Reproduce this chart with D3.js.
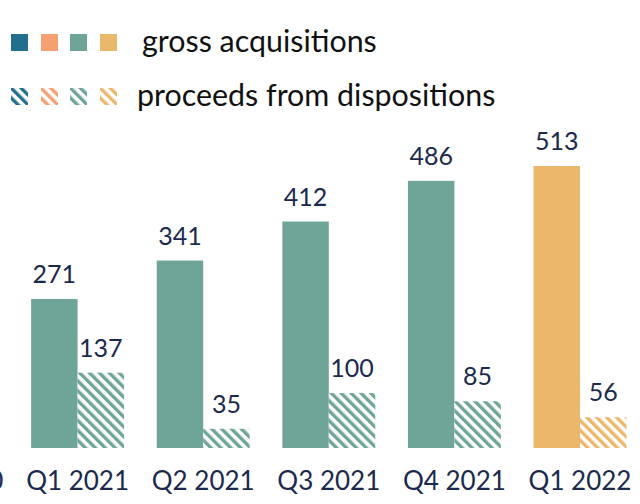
<!DOCTYPE html>
<html>
<head>
<meta charset="utf-8">
<script src="https://cdn.jsdelivr.net/npm/d3@7"></script>
<style>
  html, body { margin: 0; padding: 0; background: #ffffff; }
  svg { display: block; }
  text { font-family: Lato, "Open Sans", sans-serif; }
</style>
</head>
<body>
<svg id="chart" width="640" height="504"></svg>
<script>
// ---- data ----
const categories = ["Q4 2020", "Q1 2021", "Q2 2021", "Q3 2021", "Q4 2021", "Q1 2022"];
const grossAcquisitions = [null, 271, 341, 412, 486, 513];
const proceedsDispositions = [null, 137, 35, 100, 85, 56];
const categoryColors = ["#6fa599", "#6fa599", "#6fa599", "#6fa599", "#6fa599", "#ebb76a"];
const legendColors = ["#216e8e", "#f5a071", "#6fa599", "#ebb76a"];
const legendLabels = ["gross acquisitions", "proceeds from dispositions"];

const svg = d3.select("#chart");
const baseline = 448;
const textColor = "#1b2a4c";

const x = d3.scaleBand()
  .domain(categories)
  .range([-110.8, 642.8])
  .paddingInner(0.26)
  .paddingOuter(0.13);

const xSub = d3.scaleBand()
  .domain(["gross", "proceeds"])
  .range([0, x.bandwidth()]);

const y = d3.scaleLinear()
  .domain([0, 513])
  .range([baseline, 166]);

// hatch patterns
const defs = svg.append("defs");
function hatchId(color) { return "hatch-" + color.replace("#", ""); }
const allColors = Array.from(new Set(categoryColors.concat(legendColors)));
allColors.forEach(c => {
  const p = defs.append("pattern")
    .attr("id", hatchId(c))
    .attr("patternUnits", "userSpaceOnUse")
    .attr("width", 7)
    .attr("height", 7)
    .attr("patternTransform", "rotate(-45)");
  p.append("rect").attr("width", 7).attr("height", 7).attr("fill", "#ffffff");
  p.append("rect").attr("x", 0).attr("y", 0).attr("width", 3.4).attr("height", 7).attr("fill", c);
});

const rows = categories.map((c, i) => ({
  cat: c, gross: grossAcquisitions[i], proceeds: proceedsDispositions[i], color: categoryColors[i]
}));

const g = svg.append("g");
const groups = g.selectAll("g.grp").data(rows.filter(d => d.gross != null))
  .join("g").attr("class", "grp")
  .attr("transform", d => `translate(${x(d.cat)},0)`);

groups.append("rect")
  .attr("x", xSub("gross"))
  .attr("width", xSub.bandwidth())
  .attr("y", d => y(d.gross))
  .attr("height", d => baseline - y(d.gross))
  .attr("fill", d => d.color);

groups.append("rect")
  .attr("x", xSub("proceeds"))
  .attr("width", xSub.bandwidth())
  .attr("y", d => y(d.proceeds))
  .attr("height", d => baseline - y(d.proceeds))
  .attr("fill", d => `url(#${hatchId(d.color)})`);

groups.append("text")
  .attr("x", xSub("gross") + xSub.bandwidth() / 2)
  .attr("y", d => y(d.gross) - 16)
  .attr("text-anchor", "middle")
  .attr("font-size", 25)
  .attr("fill", textColor)
  .text(d => d.gross);

groups.append("text")
  .attr("x", xSub("proceeds") + xSub.bandwidth() / 2)
  .attr("y", d => y(d.proceeds) - 16)
  .attr("text-anchor", "middle")
  .attr("font-size", 25)
  .attr("fill", textColor)
  .text(d => d.proceeds);

// x axis
const axis = svg.append("g")
  .attr("transform", `translate(0,${baseline})`)
  .call(d3.axisBottom(x).tickSize(0).tickPadding(0));
axis.select(".domain").remove();
axis.selectAll("text")
  .attr("font-family", "Lato, sans-serif")
  .attr("font-size", 26)
  .attr("fill", textColor)
  .attr("dy", null)
  .attr("y", 42);

// legend
const sq = 17;
const legX = [11, 41, 70, 100];
const leg = svg.append("g");
legendColors.forEach((c, i) => {
  leg.append("rect").attr("x", legX[i]).attr("y", 34).attr("width", sq).attr("height", sq).attr("fill", c);
  leg.append("rect").attr("x", legX[i]).attr("y", 88).attr("width", sq).attr("height", sq).attr("fill", `url(#${hatchId(c)})`);
});
leg.append("text").attr("x", 142).attr("y", 52).attr("font-size", 30.4).attr("fill", "#111111").text(legendLabels[0]);
leg.append("text").attr("x", 137).attr("y", 106).attr("font-size", 30.4).attr("fill", "#111111").text(legendLabels[1]);
</script>
</body>
</html>
